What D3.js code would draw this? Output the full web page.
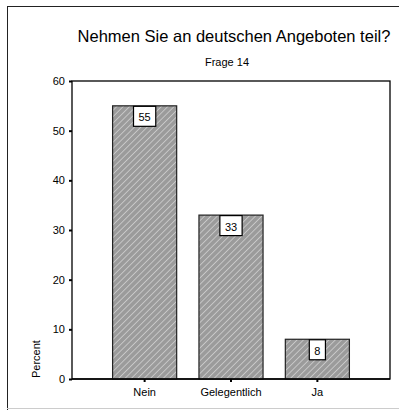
<!DOCTYPE html>
<html><head><meta charset="utf-8">
<script src="https://cdn.jsdelivr.net/npm/d3@7"></script>
<style>body{margin:0;background:#fff}svg{display:block}text{font-family:"Liberation Sans",Arial,sans-serif;fill:#000}</style>
</head><body><svg id="c" width="399" height="410"></svg>
<script>
const categories = ["Nein", "Gelegentlich", "Ja"];
const values = [55, 33, 8];
const yTicks = [0, 10, 20, 30, 40, 50, 60];
const title = "Nehmen Sie an deutschen Angeboten teil?";
const subtitle = "Frage 14";
const yLabel = "Percent";

const svg = d3.select("#c");
const L = 72, R = 390, T = 81, B = 379;

// frame
svg.append("line").attr("x1",7.5).attr("x2",7.5).attr("y1",6).attr("y2",410).attr("stroke","#222").attr("stroke-width",1);
svg.append("line").attr("x1",7).attr("x2",399).attr("y1",6.5).attr("y2",6.5).attr("stroke","#222").attr("stroke-width",1);
svg.append("line").attr("x1",7).attr("x2",399).attr("y1",408.5).attr("y2",408.5).attr("stroke","#ccc").attr("stroke-width",1);

const defs = svg.append("defs");
const pat = defs.append("pattern").attr("id","hatch").attr("patternUnits","userSpaceOnUse")
  .attr("width",4.5).attr("height",4.5).attr("patternTransform","rotate(45)");
pat.append("rect").attr("width",4.5).attr("height",4.5).attr("fill","#9b9b9b");
pat.append("line").attr("x1",0).attr("y1",0).attr("x2",0).attr("y2",4.5).attr("stroke","#d6d6d6").attr("stroke-width",1.4);

const x = d3.scaleBand().domain(categories).range([L, R]).paddingInner(0.258).paddingOuter(0.47);
const y = d3.scaleLinear().domain([0, 60]).range([B, T]);

// plot box
svg.append("rect").attr("x",L).attr("y",T).attr("width",R-L).attr("height",B-T).attr("fill","none").attr("stroke","#000").attr("stroke-width",1.3);

// bars
svg.selectAll(".bar").data(values).join("rect")
  .attr("x",(d,i)=>x(categories[i])).attr("y",d=>y(d))
  .attr("width",x.bandwidth()).attr("height",d=>B-y(d))
  .attr("fill","url(#hatch)").attr("stroke","#222").attr("stroke-width",1.2);

// value labels
values.forEach((d,i)=>{
  const cx = x(categories[i]) + x.bandwidth()/2;
  const g = svg.append("g");
  const t = g.append("text").attr("x",cx).attr("y",y(d)+15.5).attr("text-anchor","middle").attr("font-size",11).text(d);
  const w = t.node().getComputedTextLength() + 10;
  g.insert("rect","text").attr("x",cx-w/2).attr("y",y(d)+0.5).attr("width",w).attr("height",20).attr("fill","#fff").attr("stroke","#000").attr("stroke-width",1.2);
});

// y axis
const yAxis = d3.axisLeft(y).tickValues(yTicks).tickSize(3).tickPadding(4);
const ya = svg.append("g").attr("transform",`translate(${L},0)`).call(yAxis);
ya.select(".domain").remove();
ya.selectAll(".tick line").attr("stroke","#000").attr("stroke-width",2);
ya.selectAll(".tick text").attr("font-size",11).attr("font-family","Liberation Sans, Arial, sans-serif").attr("fill","#000");

// x axis
const xAxis = d3.axisBottom(x).tickSize(3).tickPadding(6);
const xa = svg.append("g").attr("transform",`translate(0,${B})`).call(xAxis);
xa.select(".domain").remove();
xa.selectAll(".tick line").attr("stroke","#000").attr("stroke-width",2);
xa.selectAll(".tick text").attr("font-size",11).attr("font-family","Liberation Sans, Arial, sans-serif").attr("fill","#000");
svg.append("line").attr("x1",L).attr("x2",R).attr("y1",B).attr("y2",B).attr("stroke","#000").attr("stroke-width",1.3);

// titles
svg.append("text").attr("x",234).attr("y",42).attr("text-anchor","middle").attr("font-size",16.5).text(title);
svg.append("text").attr("x",227).attr("y",66).attr("text-anchor","middle").attr("font-size",11).text(subtitle);
svg.append("text").attr("transform","translate(40,378) rotate(-90)").attr("font-size",11).text(yLabel);
</script></body></html>
